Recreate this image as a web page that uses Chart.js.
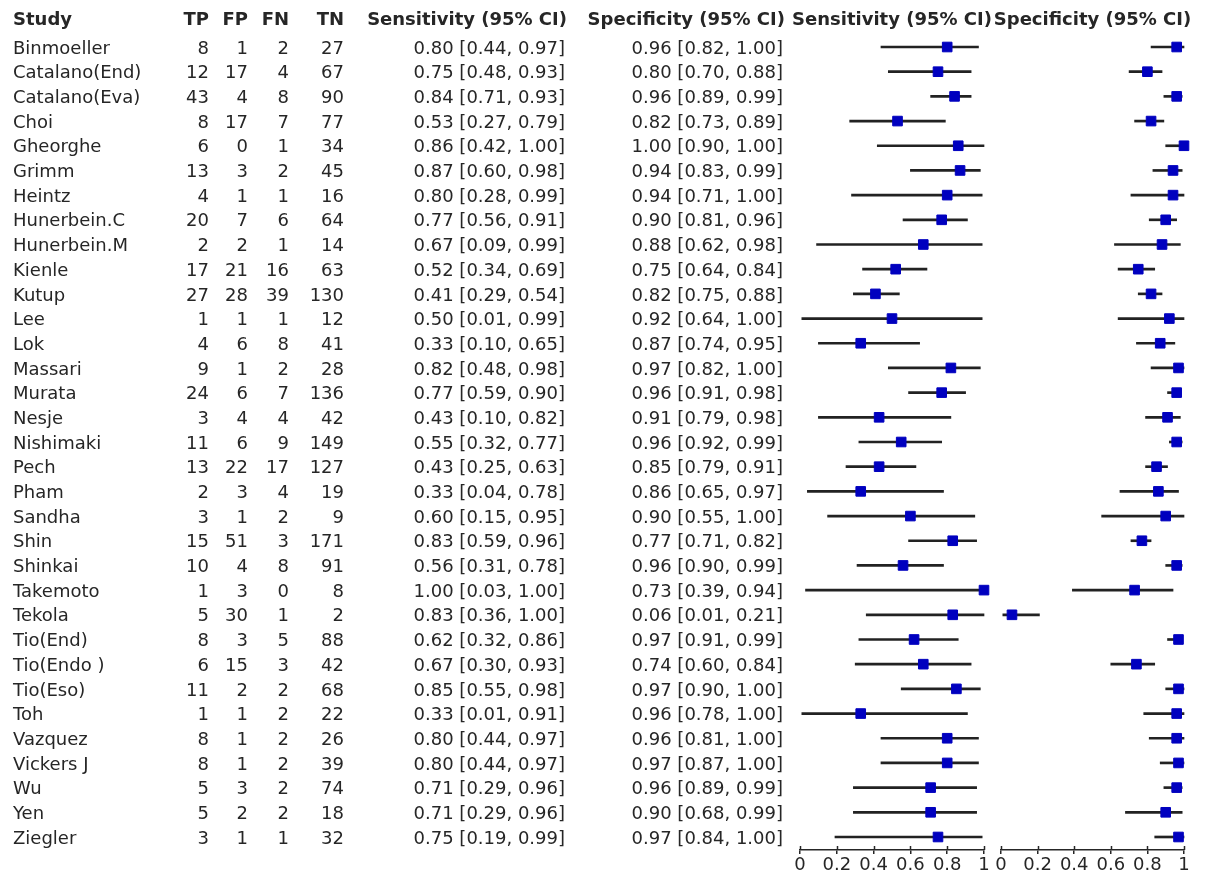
<!DOCTYPE html>
<html>
<head>
<meta charset="utf-8">
<script src="https://cdn.jsdelivr.net/npm/chart.js@4.4.1/dist/chart.umd.min.js"></script>
<style>
  body { margin: 0; background: #fff; }
  #wrap { position: relative; width: 1208px; height: 874px; }
  #sensChart { position: absolute; left: 0; top: 0; }
  #specChart { position: absolute; left: 990px; top: 0; }
</style>
</head>
<body>
<div id="wrap">
  <canvas id="sensChart" width="1208" height="874"></canvas>
  <canvas id="specChart" width="218" height="874"></canvas>
</div>
<script>
const studies = ['Binmoeller', 'Catalano(End)', 'Catalano(Eva)', 'Choi', 'Gheorghe', 'Grimm', 'Heintz',
  'Hunerbein.C', 'Hunerbein.M', 'Kienle', 'Kutup', 'Lee', 'Lok', 'Massari', 'Murata', 'Nesje',
  'Nishimaki', 'Pech', 'Pham', 'Sandha', 'Shin', 'Shinkai', 'Takemoto', 'Tekola', 'Tio(End)',
  'Tio(Endo )', 'Tio(Eso)', 'Toh', 'Vazquez', 'Vickers J', 'Wu', 'Yen', 'Ziegler'];

const tp = [8, 12, 43, 8, 6, 13, 4, 20, 2, 17, 27, 1, 4, 9, 24, 3, 11, 13, 2, 3, 15, 10, 1, 5, 8, 6, 11, 1, 8, 8, 5, 5, 3];
const fp = [1, 17, 4, 17, 0, 3, 1, 7, 2, 21, 28, 1, 6, 1, 6, 4, 6, 22, 3, 1, 51, 4, 3, 30, 3, 15, 2, 1, 1, 1, 3, 2, 1];
const fn = [2, 4, 8, 7, 1, 2, 1, 6, 1, 16, 39, 1, 8, 2, 7, 4, 9, 17, 4, 2, 3, 8, 0, 1, 5, 3, 2, 2, 2, 2, 2, 2, 1];
const tn = [27, 67, 90, 77, 34, 45, 16, 64, 14, 63, 130, 12, 41, 28, 136, 42, 149, 127, 19, 9, 171, 91, 8, 2, 88, 42, 68, 22, 26, 39, 74, 18, 32];

const sens   = [0.80, 0.75, 0.84, 0.53, 0.86, 0.87, 0.80, 0.77, 0.67, 0.52, 0.41, 0.50, 0.33, 0.82, 0.77, 0.43, 0.55, 0.43, 0.33, 0.60, 0.83, 0.56, 1.00, 0.83, 0.62, 0.67, 0.85, 0.33, 0.80, 0.80, 0.71, 0.71, 0.75];
const sensLo = [0.44, 0.48, 0.71, 0.27, 0.42, 0.60, 0.28, 0.56, 0.09, 0.34, 0.29, 0.01, 0.10, 0.48, 0.59, 0.10, 0.32, 0.25, 0.04, 0.15, 0.59, 0.31, 0.03, 0.36, 0.32, 0.30, 0.55, 0.01, 0.44, 0.44, 0.29, 0.29, 0.19];
const sensHi = [0.97, 0.93, 0.93, 0.79, 1.00, 0.98, 0.99, 0.91, 0.99, 0.69, 0.54, 0.99, 0.65, 0.98, 0.90, 0.82, 0.77, 0.63, 0.78, 0.95, 0.96, 0.78, 1.00, 1.00, 0.86, 0.93, 0.98, 0.91, 0.97, 0.97, 0.96, 0.96, 0.99];

const spec   = [0.96, 0.80, 0.96, 0.82, 1.00, 0.94, 0.94, 0.90, 0.88, 0.75, 0.82, 0.92, 0.87, 0.97, 0.96, 0.91, 0.96, 0.85, 0.86, 0.90, 0.77, 0.96, 0.73, 0.06, 0.97, 0.74, 0.97, 0.96, 0.96, 0.97, 0.96, 0.90, 0.97];
const specLo = [0.82, 0.70, 0.89, 0.73, 0.90, 0.83, 0.71, 0.81, 0.62, 0.64, 0.75, 0.64, 0.74, 0.82, 0.91, 0.79, 0.92, 0.79, 0.65, 0.55, 0.71, 0.90, 0.39, 0.01, 0.91, 0.60, 0.90, 0.78, 0.81, 0.87, 0.89, 0.68, 0.84];
const specHi = [1.00, 0.88, 0.99, 0.89, 1.00, 0.99, 1.00, 0.96, 0.98, 0.84, 0.88, 1.00, 0.95, 1.00, 0.98, 0.98, 0.99, 0.91, 0.97, 1.00, 0.82, 0.99, 0.94, 0.21, 0.99, 0.84, 1.00, 1.00, 1.00, 1.00, 0.99, 0.99, 1.00];

const xTicks = [0, 0.2, 0.4, 0.6, 0.8, 1];

const textColor = '#262626';
const squareColor = '#0000bf';
Chart.defaults.font.family = '"DejaVu Sans", sans-serif';
Chart.defaults.color = textColor;

const ciText = (e, l, h) => e.toFixed(2) + ' [' + l.toFixed(2) + ', ' + h.toFixed(2) + ']';

// ticks on the axis stick out above the line too
const tickUp = {
  id: 'tickUp',
  afterDraw(chart) {
    const ctx = chart.ctx, x = chart.scales.x, bottom = chart.chartArea.bottom;
    ctx.save();
    ctx.strokeStyle = textColor;
    ctx.lineWidth = 1.5;
    xTicks.forEach(t => {
      const px = Math.round(x.getPixelForValue(t)) + 0.5;
      ctx.beginPath();
      ctx.moveTo(px, bottom - 4);
      ctx.lineTo(px, bottom);
      ctx.stroke();
    });
    ctx.restore();
  }
};

function panelTitle(title) {
  return {
    id: 'panelTitle',
    afterDraw(chart) {
      const ctx = chart.ctx, x = chart.scales.x, y = chart.scales.y;
      ctx.save();
      ctx.font = 'bold 18px "DejaVu Sans"';
      ctx.fillStyle = textColor;
      ctx.textAlign = 'center';
      ctx.textBaseline = 'middle';
      ctx.fillText(title, (x.getPixelForValue(0) + x.getPixelForValue(1)) / 2, y.getPixelForValue(-1.15) + 2);
      ctx.restore();
    }
  };
}

const table = {
  id: 'table',
  afterDraw(chart) {
    const ctx = chart.ctx, y = chart.scales.y;
    ctx.save();
    ctx.fillStyle = textColor;
    ctx.textBaseline = 'middle';
    const hy = y.getPixelForValue(-1.15) + 2;
    ctx.font = 'bold 18px "DejaVu Sans"';
    ctx.textAlign = 'left';
    ctx.fillText('Study', 13, hy);
    ctx.textAlign = 'right';
    ctx.fillText('TP', 209, hy);
    ctx.fillText('FP', 248, hy);
    ctx.fillText('FN', 289, hy);
    ctx.fillText('TN', 344, hy);
    ctx.fillText('Sensitivity (95% CI)', 567, hy);
    ctx.fillText('Specificity (95% CI)', 785, hy);

    ctx.font = '18px "DejaVu Sans"';
    studies.forEach((s, i) => {
      const ry = y.getPixelForValue(i) + 2;
      ctx.textAlign = 'left';
      ctx.fillText(s, 13, ry);
      ctx.textAlign = 'right';
      ctx.fillText(tp[i], 209, ry);
      ctx.fillText(fp[i], 248, ry);
      ctx.fillText(fn[i], 289, ry);
      ctx.fillText(tn[i], 344, ry);
      ctx.fillText(ciText(sens[i], sensLo[i], sensHi[i]), 565, ry);
      ctx.fillText(ciText(spec[i], specLo[i], specHi[i]), 783, ry);
    });
    ctx.restore();
  }
};

function makePanel(id, est, lo, hi, padLeft, padRight, plugins) {
  return new Chart(document.getElementById(id), {
    type: 'scatter',
    data: {
      datasets: [
        {
          type: 'bar',
          indexAxis: 'y',
          data: est.map((v, i) => ({ x: [lo[i], hi[i]], y: i })),
          backgroundColor: '#222222',
          barThickness: 2,
          clip: false,
          order: 2
        },
        {
          type: 'scatter',
          data: est.map((v, i) => ({ x: v, y: i })),
          pointStyle: 'rect',
          pointRadius: 6.8,
          backgroundColor: squareColor,
          borderColor: squareColor,
          borderWidth: 1,
          clip: false,
          order: 1
        }
      ]
    },
    options: {
      responsive: false,
      animation: false,
      events: [],
      layout: { padding: { left: padLeft, right: padRight, top: 18, bottom: 0 } },
      scales: {
        x: {
          type: 'linear',
          min: 0,
          max: 1,
          offset: false,
          afterBuildTicks: s => { s.ticks = xTicks.map(v => ({ value: v })); },
          afterFit: s => { s.height = 24; },
          border: { display: true, color: textColor, width: 1.5 },
          grid: { offset: false, drawOnChartArea: false, drawTicks: true, tickLength: 4, color: textColor, lineWidth: 1.5 },
          ticks: {
            autoSkip: false,
            maxRotation: 0,
            padding: 1,
            color: textColor,
            font: { size: 18 },
            callback: v => String(v)
          }
        },
        y: {
          type: 'linear',
          reverse: true,
          offset: false,
          grid: { offset: false },
          min: -1.175,
          max: 32.527,
          display: false
        }
      },
      plugins: {
        legend: { display: false },
        tooltip: { enabled: false }
      }
    },
    plugins: plugins
  });
}

makePanel('sensChart', sens, sensLo, sensHi, 800, 224, [table, tickUp, panelTitle('Sensitivity (95% CI)')]);
makePanel('specChart', spec, specLo, specHi, 11, 24, [tickUp, panelTitle('Specificity (95% CI)')]);
</script>
</body>
</html>
